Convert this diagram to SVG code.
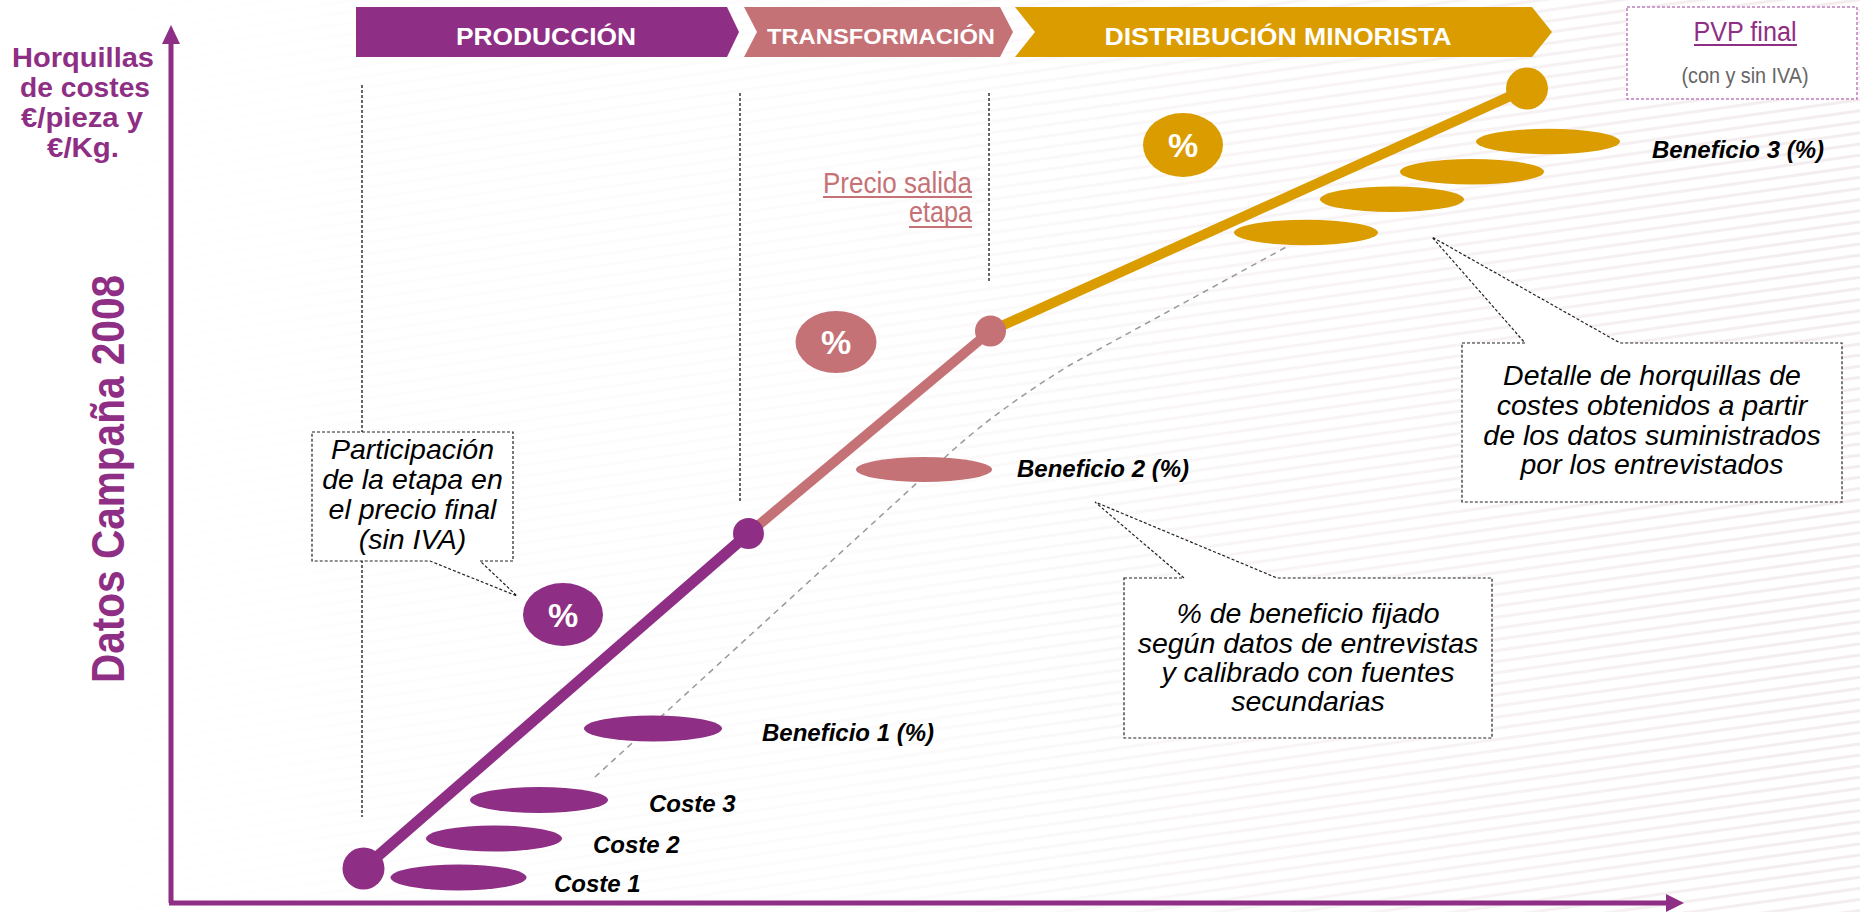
<svg xmlns="http://www.w3.org/2000/svg" width="1860" height="912" viewBox="0 0 1860 912">
<defs>
<style>
.hdr{font-family:'Liberation Sans',Arial,sans-serif;font-weight:bold;fill:#fff;text-anchor:middle}
.ax{font-family:'Liberation Sans Narrow','Liberation Sans',Arial,sans-serif;font-weight:bold;fill:#8E2E84;text-anchor:middle}
.lbl{font-family:'Liberation Sans',Arial,sans-serif;font-weight:bold;font-style:italic;font-size:24px;fill:#000}
.note{font-family:'Liberation Sans',Arial,sans-serif;font-style:italic;font-size:28.5px;fill:#000;text-anchor:middle}
.pct{font-family:'Liberation Sans',Arial,sans-serif;font-weight:bold;font-size:34px;fill:#fff;text-anchor:middle}
.nar{font-family:'Liberation Sans Narrow','Liberation Sans',Arial,sans-serif}
.dot{fill:none;stroke:#000;stroke-width:1.2;stroke-dasharray:3 2}
.box{fill:#fff;stroke:#222;stroke-width:1.2;stroke-dasharray:3 2}
.pu{fill:#8E2E84}.pk{fill:#C57276}.go{fill:#DB9C00}
</style>
<pattern id="stripes" width="60" height="11" patternUnits="userSpaceOnUse" patternTransform="rotate(-8)">
<rect width="60" height="11" fill="#fff"/>
<rect y="4" width="60" height="3" fill="#f0e6e9"/>
</pattern>
<linearGradient id="fade" x1="0" y1="0" x2="1" y2="0">
<stop offset="0" stop-color="#fff" stop-opacity="1"/>
<stop offset="0.45" stop-color="#fff" stop-opacity="0.85"/>
<stop offset="1" stop-color="#fff" stop-opacity="0.25"/>
</linearGradient>
</defs>
<rect width="1860" height="912" fill="url(#stripes)"/>
<rect width="1860" height="912" fill="url(#fade)"/>

<g id="headers">
<g id="produccion"><polygon class="pu" points="356,7 727,7 739,32 727,57 356,57"/><text class="hdr" x="546" y="45" font-size="24" textLength="180" lengthAdjust="spacingAndGlyphs">PRODUCCIÓN</text></g>
<g id="transformacion"><polygon class="pk" points="744,7 1000,7 1013,32 1000,57 744,57 757,32"/><text class="hdr" x="881" y="44" font-size="22" textLength="228" lengthAdjust="spacingAndGlyphs">TRANSFORMACIÓN</text></g>
<g id="distribucion"><polygon class="go" points="1015,7 1532,7 1552,32 1532,57 1015,57 1035,32"/><text class="hdr" x="1278" y="45" font-size="24" textLength="347" lengthAdjust="spacingAndGlyphs">DISTRIBUCIÓN MINORISTA</text></g>
</g>

<g id="pvp">
<rect x="1627" y="7" width="230" height="92" fill="#fff" stroke="#C27EC0" stroke-width="1.5" stroke-dasharray="3 2"/>
<text class="nar" x="1745" y="41" font-size="27" fill="#8E2E84" text-anchor="middle" textLength="103" lengthAdjust="spacingAndGlyphs">PVP final</text>
<rect x="1694" y="44" width="103" height="2" fill="#8E2E84"/>
<text class="nar" x="1745" y="83" font-size="22" fill="#666" text-anchor="middle" textLength="127" lengthAdjust="spacingAndGlyphs">(con y sin IVA)</text>
</g>

<g id="axes">
<line x1="171" y1="903" x2="171" y2="40" stroke="#8E2E84" stroke-width="5"/>
<polygon class="pu" points="171,25 162,44 180,44"/>
<line x1="169" y1="903" x2="1668" y2="903" stroke="#8E2E84" stroke-width="5"/>
<polygon class="pu" points="1684,903 1666,894 1666,912"/>
<text class="ax" font-size="27.5"><tspan x="83" y="67" textLength="142" lengthAdjust="spacingAndGlyphs">Horquillas</tspan><tspan x="85" y="97" textLength="130" lengthAdjust="spacingAndGlyphs">de costes</tspan><tspan x="82" y="127" textLength="122" lengthAdjust="spacingAndGlyphs">€/pieza y</tspan><tspan x="83" y="157" textLength="72" lengthAdjust="spacingAndGlyphs">€/Kg.</tspan></text>
<text class="ax" transform="translate(124,479) rotate(-90)" font-size="46" textLength="408" lengthAdjust="spacingAndGlyphs">Datos Campaña 2008</text>
</g>

<g id="guides">
<line class="dot" x1="362" y1="85" x2="362" y2="817"/>
<line class="dot" x1="740" y1="93" x2="740" y2="502"/>
<line class="dot" x1="989" y1="93" x2="989" y2="283"/>
<path d="M595,777 L953,450 Q1000,408 1070,365 L1290,245" fill="none" stroke="#999" stroke-width="1.5" stroke-dasharray="6 5"/>
</g>

<g id="bars">
<ellipse class="pu" cx="458.5" cy="877.5" rx="68" ry="13"/>
<ellipse class="pu" cx="494" cy="838.5" rx="68" ry="13"/>
<ellipse class="pu" cx="539" cy="800" rx="69" ry="13"/>
<ellipse class="pu" cx="653" cy="728.5" rx="69" ry="13"/>
<ellipse class="pk" cx="924" cy="469.5" rx="68" ry="12.5"/>
<ellipse class="go" cx="1306" cy="232.5" rx="72" ry="12.7"/>
<ellipse class="go" cx="1392" cy="199.3" rx="72" ry="12.7"/>
<ellipse class="go" cx="1472" cy="171.7" rx="72" ry="12.7"/>
<ellipse class="go" cx="1548" cy="141.5" rx="72" ry="12.7"/>
</g>

<g id="connectors">
<line x1="363.5" y1="868.5" x2="748.5" y2="533.5" stroke="#8E2E84" stroke-width="11"/>
<line x1="748.5" y1="533.5" x2="990.5" y2="331" stroke="#C57276" stroke-width="10"/>
<line x1="990.5" y1="331" x2="1527" y2="88.5" stroke="#DB9C00" stroke-width="10"/>
</g>

<g id="nodes">
<circle id="n-start" class="pu" cx="363.5" cy="868.5" r="21"/>
<circle id="n-prod" class="pu" cx="748.5" cy="533.5" r="15.5"/>
<circle id="n-trans" class="pk" cx="990.5" cy="331" r="15.5"/>
<circle id="n-pvp" class="go" cx="1527" cy="88.5" r="21"/>
<g id="pct-prod"><ellipse class="pu" cx="563" cy="614.5" rx="40" ry="31.5"/><text class="pct" x="563" y="627">%</text></g>
<g id="pct-trans"><ellipse class="pk" cx="836" cy="342" rx="40.5" ry="31"/><text class="pct" x="836" y="354">%</text></g>
<g id="pct-dist"><ellipse class="go" cx="1183" cy="145" rx="40" ry="32"/><text class="pct" x="1183" y="157">%</text></g>
</g>

<g id="labels">
<text class="lbl" x="554" y="892">Coste 1</text>
<text class="lbl" x="593" y="853">Coste 2</text>
<text class="lbl" x="649" y="812">Coste 3</text>
<text class="lbl" x="762" y="741">Beneficio 1 (%)</text>
<text class="lbl" x="1017" y="477">Beneficio 2 (%)</text>
<text class="lbl" x="1652" y="158">Beneficio 3 (%)</text>
</g>

<g id="precio-salida">
<text class="nar" x="972" y="193" font-size="29" fill="#C57276" text-anchor="end" textLength="149" lengthAdjust="spacingAndGlyphs">Precio salida</text>
<rect x="823" y="196" width="149" height="2" fill="#C57276"/>
<text class="nar" x="972" y="222" font-size="29" fill="#C57276" text-anchor="end" textLength="63" lengthAdjust="spacingAndGlyphs">etapa</text>
<rect x="909" y="226" width="63" height="2" fill="#C57276"/>
</g>

<g id="callout-participacion">
<path class="box" d="M312,432 H513 V561 H480 L517,596 L430,561 H312 Z"/>
<text class="note" x="412.5" y="459">Participación</text>
<text class="note" x="412.5" y="489">de la etapa en</text>
<text class="note" x="412.5" y="519">el precio final</text>
<text class="note" x="412.5" y="549">(sin IVA)</text>
</g>

<g id="callout-beneficio">
<path class="box" d="M1124,578 H1184 L1095,502 L1277,578 H1492 V738 H1124 Z"/>
<text class="note" x="1308" y="623">% de beneficio fijado</text>
<text class="note" x="1308" y="653">según datos de entrevistas</text>
<text class="note" x="1308" y="682">y calibrado con fuentes</text>
<text class="note" x="1308" y="711">secundarias</text>
</g>

<g id="callout-detalle">
<path class="box" d="M1462,343 H1525 L1432,237 L1620,343 H1842 V502 H1462 Z"/>
<text class="note" x="1652" y="385">Detalle de horquillas de</text>
<text class="note" x="1652" y="415">costes obtenidos a partir</text>
<text class="note" x="1652" y="445">de los datos suministrados</text>
<text class="note" x="1652" y="474">por los entrevistados</text>
</g>
</svg>
